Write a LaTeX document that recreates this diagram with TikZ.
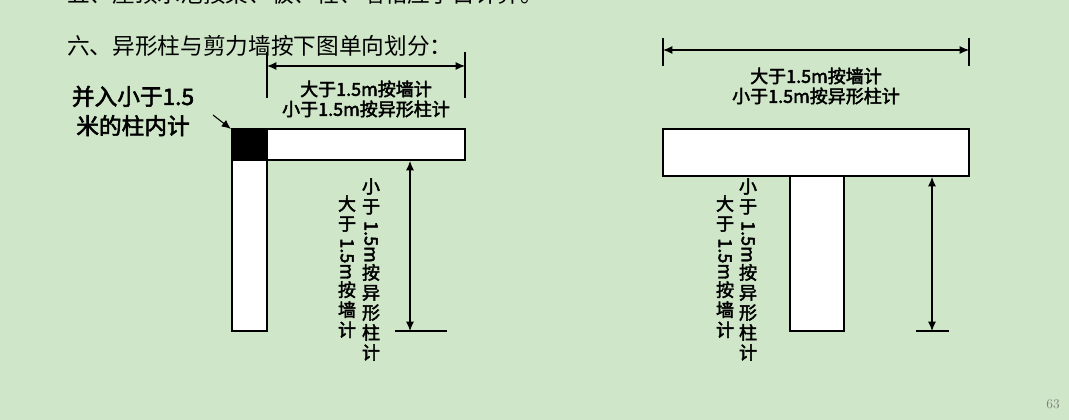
\documentclass[tikz,border=0pt]{standalone}
\usepackage{fontspec}
\usepackage{graphicx}
\usetikzlibrary{arrows.meta}
\newfontfamily\cjk{Noto Sans CJK SC}
\newfontfamily\cjkb[FakeBold=2.5]{Noto Sans CJK SC}
\definecolor{bgg}{RGB}{207,230,201}
\newcommand\turned[1]{\raisebox{9pt}{\rotatebox{-90}{#1}}}
\begin{document}
\begin{tikzpicture}
      [x=.75pt,y=-.75pt
      ,part/.style={draw=black,thick,fill=white}
      ,lin/.style={thick}
      ,dim/.style={thick,{Latex[length=7pt,width=6pt]}-{Latex[length=7pt,width=6pt]}}
      ,lab/.style={font=\cjkb\fontsize{13.5}{15}\selectfont,inner sep=0,align=center}
      ,vlab/.style={font=\cjkb\fontsize{13.5}{15}\selectfont,inner sep=0,align=center,anchor=north}]
        \fill[bgg] (0,0) rectangle (1069,420);
        \useasboundingbox (0,0) rectangle (1069,420);
        \begin{scope}
          \clip (0,0) rectangle (1069,420);
          \node[anchor=west,inner sep=0,font=\cjk\fontsize{17}{18}\selectfont] (head5) at (67,-6) {五、屋顶水池按梁、板、柱、墙相应子目计算。};
        \end{scope}
        \node[anchor=west,inner sep=0,font=\cjk\fontsize{17}{18}\selectfont] (head6) at (67,46) {六、异形柱与剪力墙按下图单向划分：};
        % L-shaped column
        \fill (232,129) rectangle (267,160);
        \draw[part] (267,129) rectangle (465,160);
        \draw[part] (232,160) rectangle (267,331);
        \draw[thick] (232,129) rectangle (267,160);
        \node[lab,font=\cjkb\fontsize{17}{22}\selectfont] (merge) at (133,111) {并入小于1.5\\米的柱内计};
        \coordinate (corner) at (231,129);
        \draw[lin,-{Latex[length=7pt,width=6pt]}] (213,115) -- (corner);
        \coordinate (la) at (267,52); \coordinate (la') at (267,98);
        \coordinate (lb) at (465,52); \coordinate (lb') at (465,98);
        \draw[lin] (la) -- (la');
        \draw[lin] (lb) -- (lb');
        \draw[dim] (267,66) -- (465,66);
        \node[lab] (lw) at (366,99) {大于1.5m按墙计\\小于1.5m按异形柱计};
        \coordinate (lt) at (410,161); \coordinate (lbot) at (410,331);
        \draw[dim] (lt) -- (lbot);
        \draw[lin] (395,331) -- (447,331);
        \node[vlab] (lv1) at (371,178) {小\\于\\\turned{1.5m}\\按\\异\\形\\柱\\计};
        \node[vlab] (lv2) at (347,195) {大\\于\\\turned{1.5m}\\按\\墙\\计};
        % T-shaped column
        \draw[part] (663,129) rectangle (969,176);
        \draw[part] (790,176) rectangle (844,331);
        \draw[lin] (663,38) -- (663,66);
        \draw[lin] (969,38) -- (969,66);
        \draw[dim] (663,50) -- (969,50);
        \node[lab] (tw) at (816,86) {大于1.5m按墙计\\小于1.5m按异形柱计};
        \coordinate (tt) at (932,177); \coordinate (tbot) at (932,331);
        \draw[dim] (tt) -- (tbot);
        \draw[lin] (916,331) -- (949,331);
        \node[vlab] (tv1) at (748,178) {小\\于\\\turned{1.5m}\\按\\异\\形\\柱\\计};
        \node[vlab] (tv2) at (725,195) {大\\于\\\turned{1.5m}\\按\\墙\\计};
        \node[font=\fontsize{10}{12}\selectfont,text=gray] (page) at (1053,404) {63};
      \end{tikzpicture}
\end{document}
